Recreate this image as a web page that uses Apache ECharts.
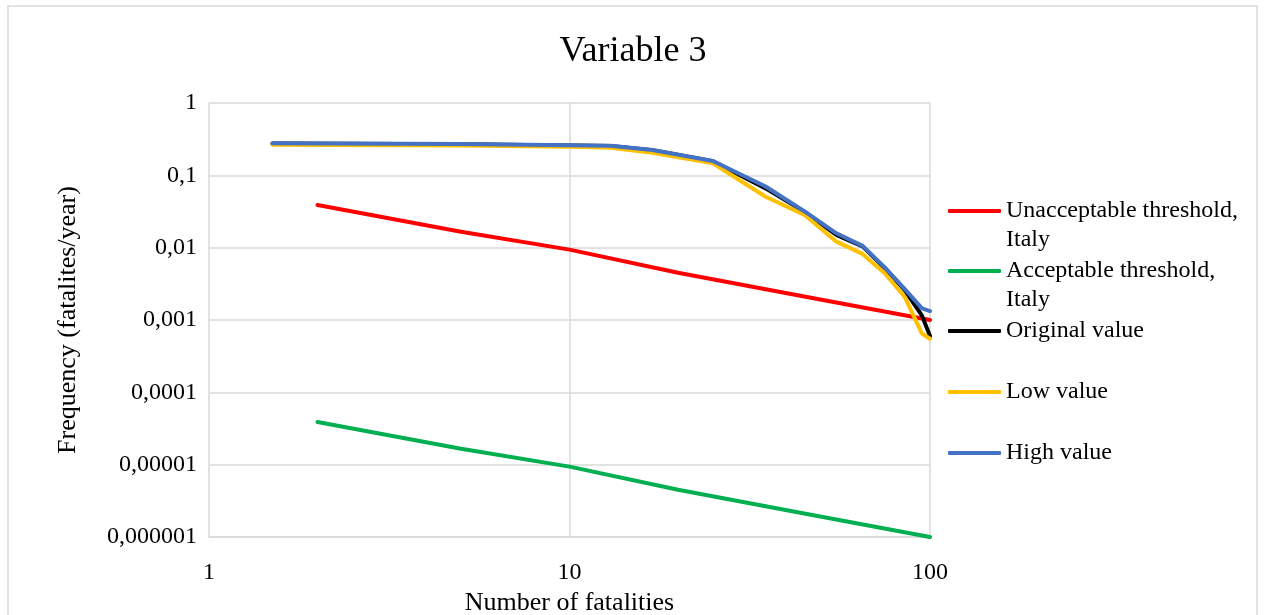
<!DOCTYPE html>
<html>
<head>
<meta charset="utf-8">
<script src="https://cdn.jsdelivr.net/npm/echarts@6/dist/echarts.min.js"></script>
<style>
html,body{margin:0;padding:0;background:#fff;}
#chart{width:1266px;height:615px;}
</style>
</head>
<body>
<div id="chart"></div>
<script>
const titleText = 'Variable 3';
const xAxisName = 'Number of fatalities';
const yAxisName = 'Frequency (fatalites/year)';

const nCurve = [1.5, 5, 10, 13, 17, 25, 35, 45, 55, 65, 75, 85, 95, 100];
const originalValue = [0.275, 0.268, 0.258, 0.255, 0.222, 0.157, 0.066, 0.031, 0.015, 0.0104, 0.0052, 0.0026, 0.00115, 0.0006];
const lowValue      = [0.265, 0.258, 0.249, 0.241, 0.205, 0.147, 0.0506, 0.0282, 0.0121, 0.0082, 0.0044, 0.0021, 0.00065, 0.00055];
const highValue     = [0.277, 0.272, 0.260, 0.257, 0.224, 0.158, 0.070, 0.0314, 0.0158, 0.0106, 0.0053, 0.0027, 0.00145, 0.00133];

const nThreshold = [2, 5, 10, 20, 50, 100];
const unacceptableItaly = [0.039, 0.0166, 0.0094, 0.0045, 0.0019, 0.001];
const acceptableItaly   = [0.000039, 0.0000166, 0.0000094, 0.0000045, 0.0000019, 0.000001];

const seriesNames = ['Unacceptable threshold,\nItaly', 'Acceptable threshold,\nItaly', 'Original value', 'Low value', 'High value'];
const seriesColors = ['#FF0000', '#00B050', '#000000', '#FFC000', '#4472C4'];

const FONT = 'Liberation Serif';

function pairs(xs, ys) { return xs.map((x, i) => [x, ys[i]]); }

const seriesData = [
  pairs(nThreshold, unacceptableItaly),
  pairs(nThreshold, acceptableItaly),
  pairs(nCurve, originalValue),
  pairs(nCurve, lowValue),
  pairs(nCurve, highValue)
];

const legendIconY = [211, 271, 331, 392, 453];
const LH = 29;

const legends = seriesNames.map((name, i) => {
  const twoLine = name.indexOf('\n') >= 0;
  return {
    orient: 'vertical',
    left: 948,
    top: twoLine ? legendIconY[i] - LH * 1.5 : legendIconY[i] - LH / 2,
    padding: 0,
    itemWidth: 53,
    itemHeight: 4,
    icon: 'roundRect',
    selectedMode: false,
    data: [name],
    formatter: twoLine ? function (n) { return ' \n' + n; } : '{name}',
    textStyle: { fontFamily: FONT, fontSize: 24, color: '#000', lineHeight: LH }
  };
});

const option = {
  animation: false,
  backgroundColor: '#fff',
  title: {
    text: titleText,
    left: 'center',
    top: 29,
    textStyle: { fontFamily: FONT, fontSize: 36, fontWeight: 'normal', color: '#000' }
  },
  graphic: [{
    type: 'rect',
    shape: { x: 8, y: 6, width: 1249, height: 700 },
    style: { fill: 'none', stroke: '#d9d9d9', lineWidth: 1.5 },
    silent: true
  }],
  legend: legends,
  grid: { left: 209, right: 336, top: 103, bottom: 78, containLabel: false, outerBoundsMode: 'none' },
  xAxis: {
    type: 'log', logBase: 10, min: 1, max: 100, splitNumber: 2,
    name: xAxisName, nameLocation: 'middle', nameGap: 50,
    nameTextStyle: { fontFamily: FONT, fontSize: 26, color: '#000' },
    axisLine: { show: true, lineStyle: { color: '#d9d9d9', width: 1.5 } },
    axisTick: { show: false },
    axisLabel: { fontFamily: FONT, fontSize: 24, color: '#000', margin: 24 },
    splitLine: { show: true, lineStyle: { color: '#d9d9d9', width: 1.5 } },
    minorTick: { show: false }
  },
  yAxis: {
    type: 'log', logBase: 10, min: 0.000001, max: 1, splitNumber: 6,
    name: yAxisName, nameLocation: 'middle', nameGap: 128,
    nameTextStyle: { fontFamily: FONT, fontSize: 26, color: '#000' },
    axisLine: { show: false },
    axisTick: { show: false },
    axisLabel: {
      fontFamily: FONT, fontSize: 24, color: '#000', margin: 12,
      formatter: function (v) {
        const n = Math.round(-Math.log10(v));
        if (n <= 0) return '1';
        return v.toFixed(n).replace('.', ',');
      }
    },
    splitLine: { show: true, lineStyle: { color: '#d9d9d9', width: 1.5 } }
  },
  series: seriesNames.map((name, i) => ({
    name: name,
    type: 'line',
    data: seriesData[i],
    showSymbol: false,
    symbol: 'none',
    color: seriesColors[i],
    lineStyle: { color: seriesColors[i], width: 4, cap: 'round', join: 'round' },
    z: 2 + i
  }))
};

const chart = echarts.init(document.getElementById('chart'), null, { renderer: 'canvas' });
chart.setOption(option);
</script>
</body>
</html>
